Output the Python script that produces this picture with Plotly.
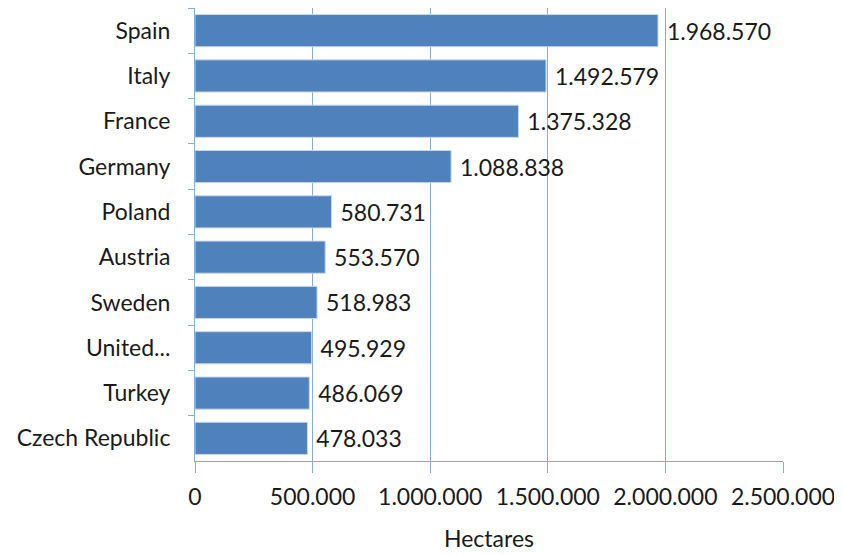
import plotly.graph_objects as go

countries = ["Spain", "Italy", "France", "Germany", "Poland", "Austria",
             "Sweden", "United...", "Turkey", "Czech Republic"]
hectares = [1968570, 1492579, 1375328, 1088838, 580731, 553570,
            518983, 495929, 486069, 478033]
x_ticks = [0, 500000, 1000000, 1500000, 2000000, 2500000]

grid_c = "#86ABDB"
font_f = "Lato"
txt_c = "#1a1a1a"

fig = go.Figure(go.Bar(
    x=hectares, y=countries, orientation="h",
    marker=dict(color="#4F81BD", line=dict(color="#C9D7EA", width=1)),
    text=hectares, texttemplate="\u00a0%{x:,}", textposition="outside",
    textfont=dict(size=23, color=txt_c, family=font_f),
    cliponaxis=False,
))

fig.update_layout(
    width=842, height=555,
    margin=dict(l=187, r=67, t=0, b=102),
    paper_bgcolor="white", plot_bgcolor="white",
    separators=",.",
    bargap=0.29,
    showlegend=False,
    font=dict(family=font_f, size=23, color=txt_c),
)
fig.update_xaxes(
    range=[0, 2500000], tickvals=x_ticks, tickformat=",",
    showgrid=True, gridcolor=grid_c, gridwidth=1,
    showline=True, linecolor=grid_c, linewidth=1,
    ticks="outside", ticklen=11, tickcolor=grid_c,
    ticklabelstandoff=4,
    tickfont=dict(size=23, family=font_f, color=txt_c),
    title=dict(text="Hectares", font=dict(size=23, family=font_f, color=txt_c), standoff=22),
    zeroline=False, automargin=False,
)
fig.update_yaxes(
    autorange="reversed", categoryorder="array", categoryarray=countries,
    showline=True, linecolor=grid_c, linewidth=1,
    ticks="outside", ticklen=6, tickcolor=grid_c, tickson="boundaries",
    ticklabelstandoff=19,
    tickfont=dict(size=23, family=font_f, color=txt_c),
    showgrid=False, automargin=False,
)

fig.write_html("out.html")
